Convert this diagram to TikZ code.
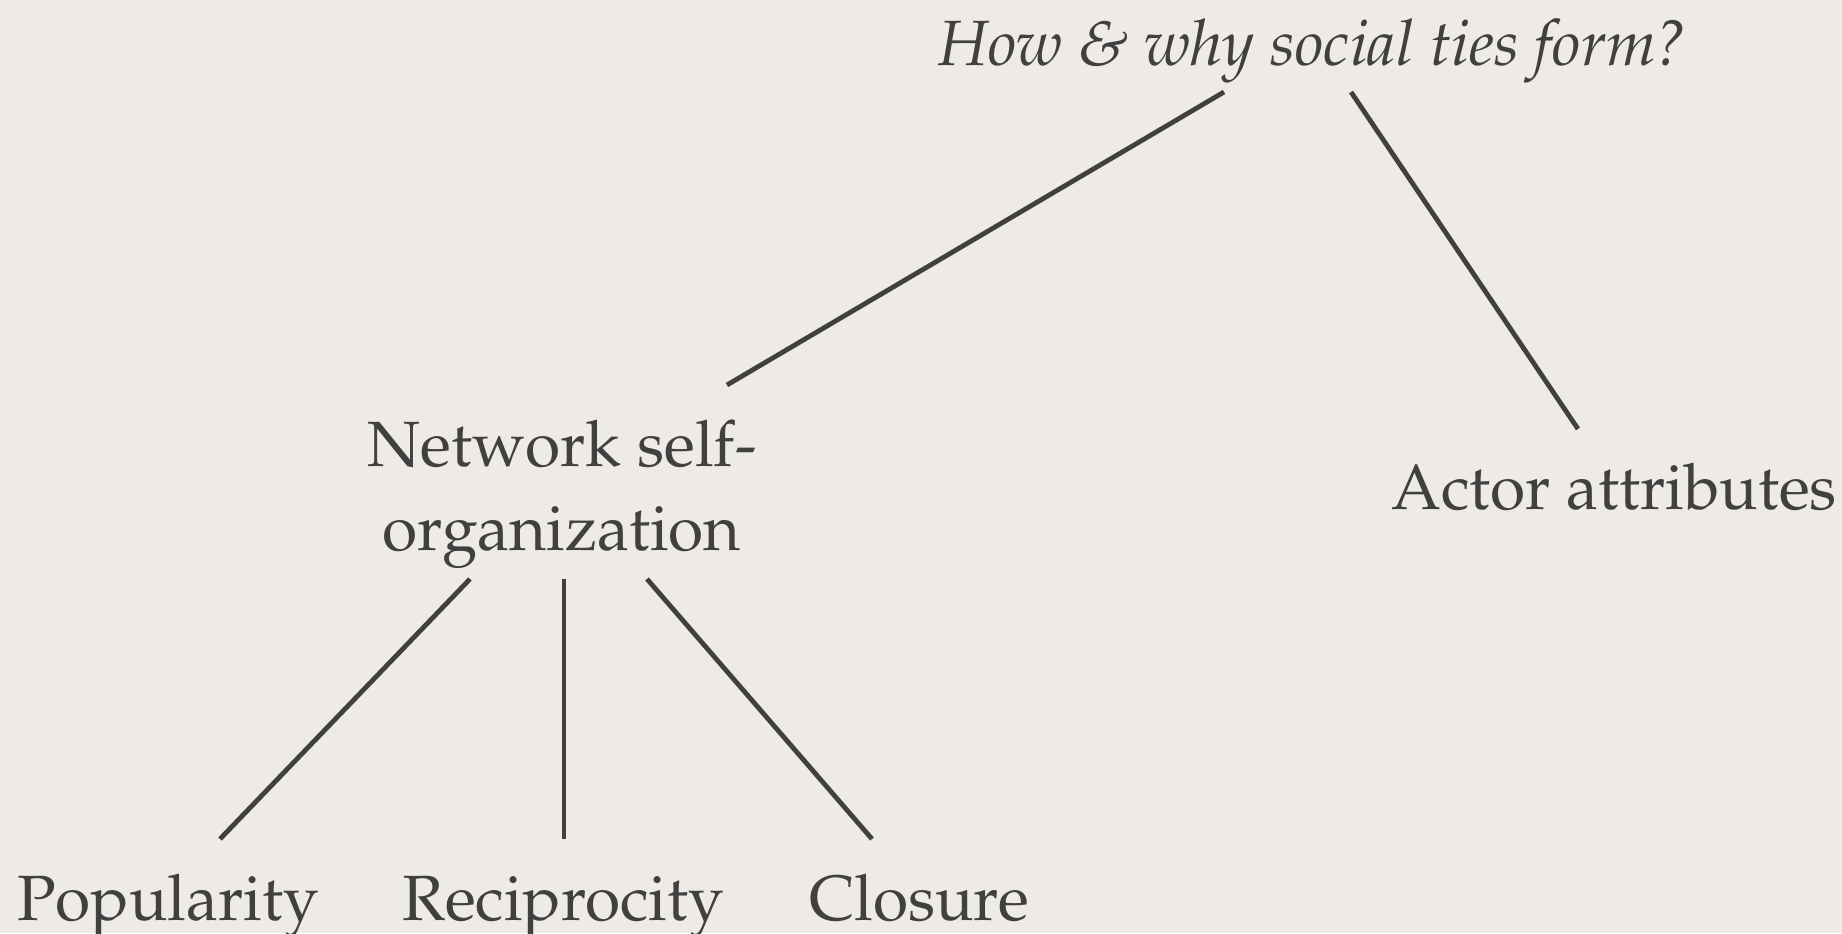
\documentclass[tikz,border=0pt]{standalone}
\usepackage[T1]{fontenc}
\usepackage{mathpazo}
\usepackage{xcolor}
\usetikzlibrary{calc}
\definecolor{paper}{HTML}{EEEBE6}
\definecolor{ink}{HTML}{404040}
\tikzset{
  term/.style={text=ink, inner sep=0pt, anchor=base, align=center,
    font=\fontsize{64bp}{84bp}\selectfont},
  question/.style={term, font=\fontsize{64bp}{84bp}\selectfont\itshape},
  tie/.style={draw=ink, line width=4.8bp}
}

\begin{document}
\begin{tikzpicture}[x=1bp, y=-1bp]
  % ================================================================
  % paper background
  % ================================================================
  \fill[paper] (0,0) rectangle (1842,933);
  \useasboundingbox (0,0) rectangle (1842,933);
  % nodes ----------------------------------------------------------
  \node[question] (why) at (1313,65) {How \& why social ties form?};
  \node[term] (selforg) at (562,550) {Network self-\\organization};
  \node[term] (actor) at (1614,509) {Actor attributes};
  \node[term] (pop) at (168,920) {Popularity};
  \node[term] (recip) at (563,920) {Reciprocity};
  \node[term] (clos) at (919,920) {Closure};
  % ties -----------------------------------------------------------
  \draw[tie] ($(why.base)+(-89,27)$) -- ($(selforg.base)+(165,-165)$);
  \draw[tie] ($(why.base)+(38,27)$) -- ($(actor.base)+(-36,-80)$);
  \draw[tie] ($(selforg.base)+(-92,29)$) -- ($(pop.base)+(52,-81)$);
  \draw[tie] ($(selforg.base)+(2,29)$) -- ($(recip.base)+(1,-81)$);
  \draw[tie] ($(selforg.base)+(85,29)$) -- ($(clos.base)+(-47,-81)$);
\end{tikzpicture}
\end{document}
